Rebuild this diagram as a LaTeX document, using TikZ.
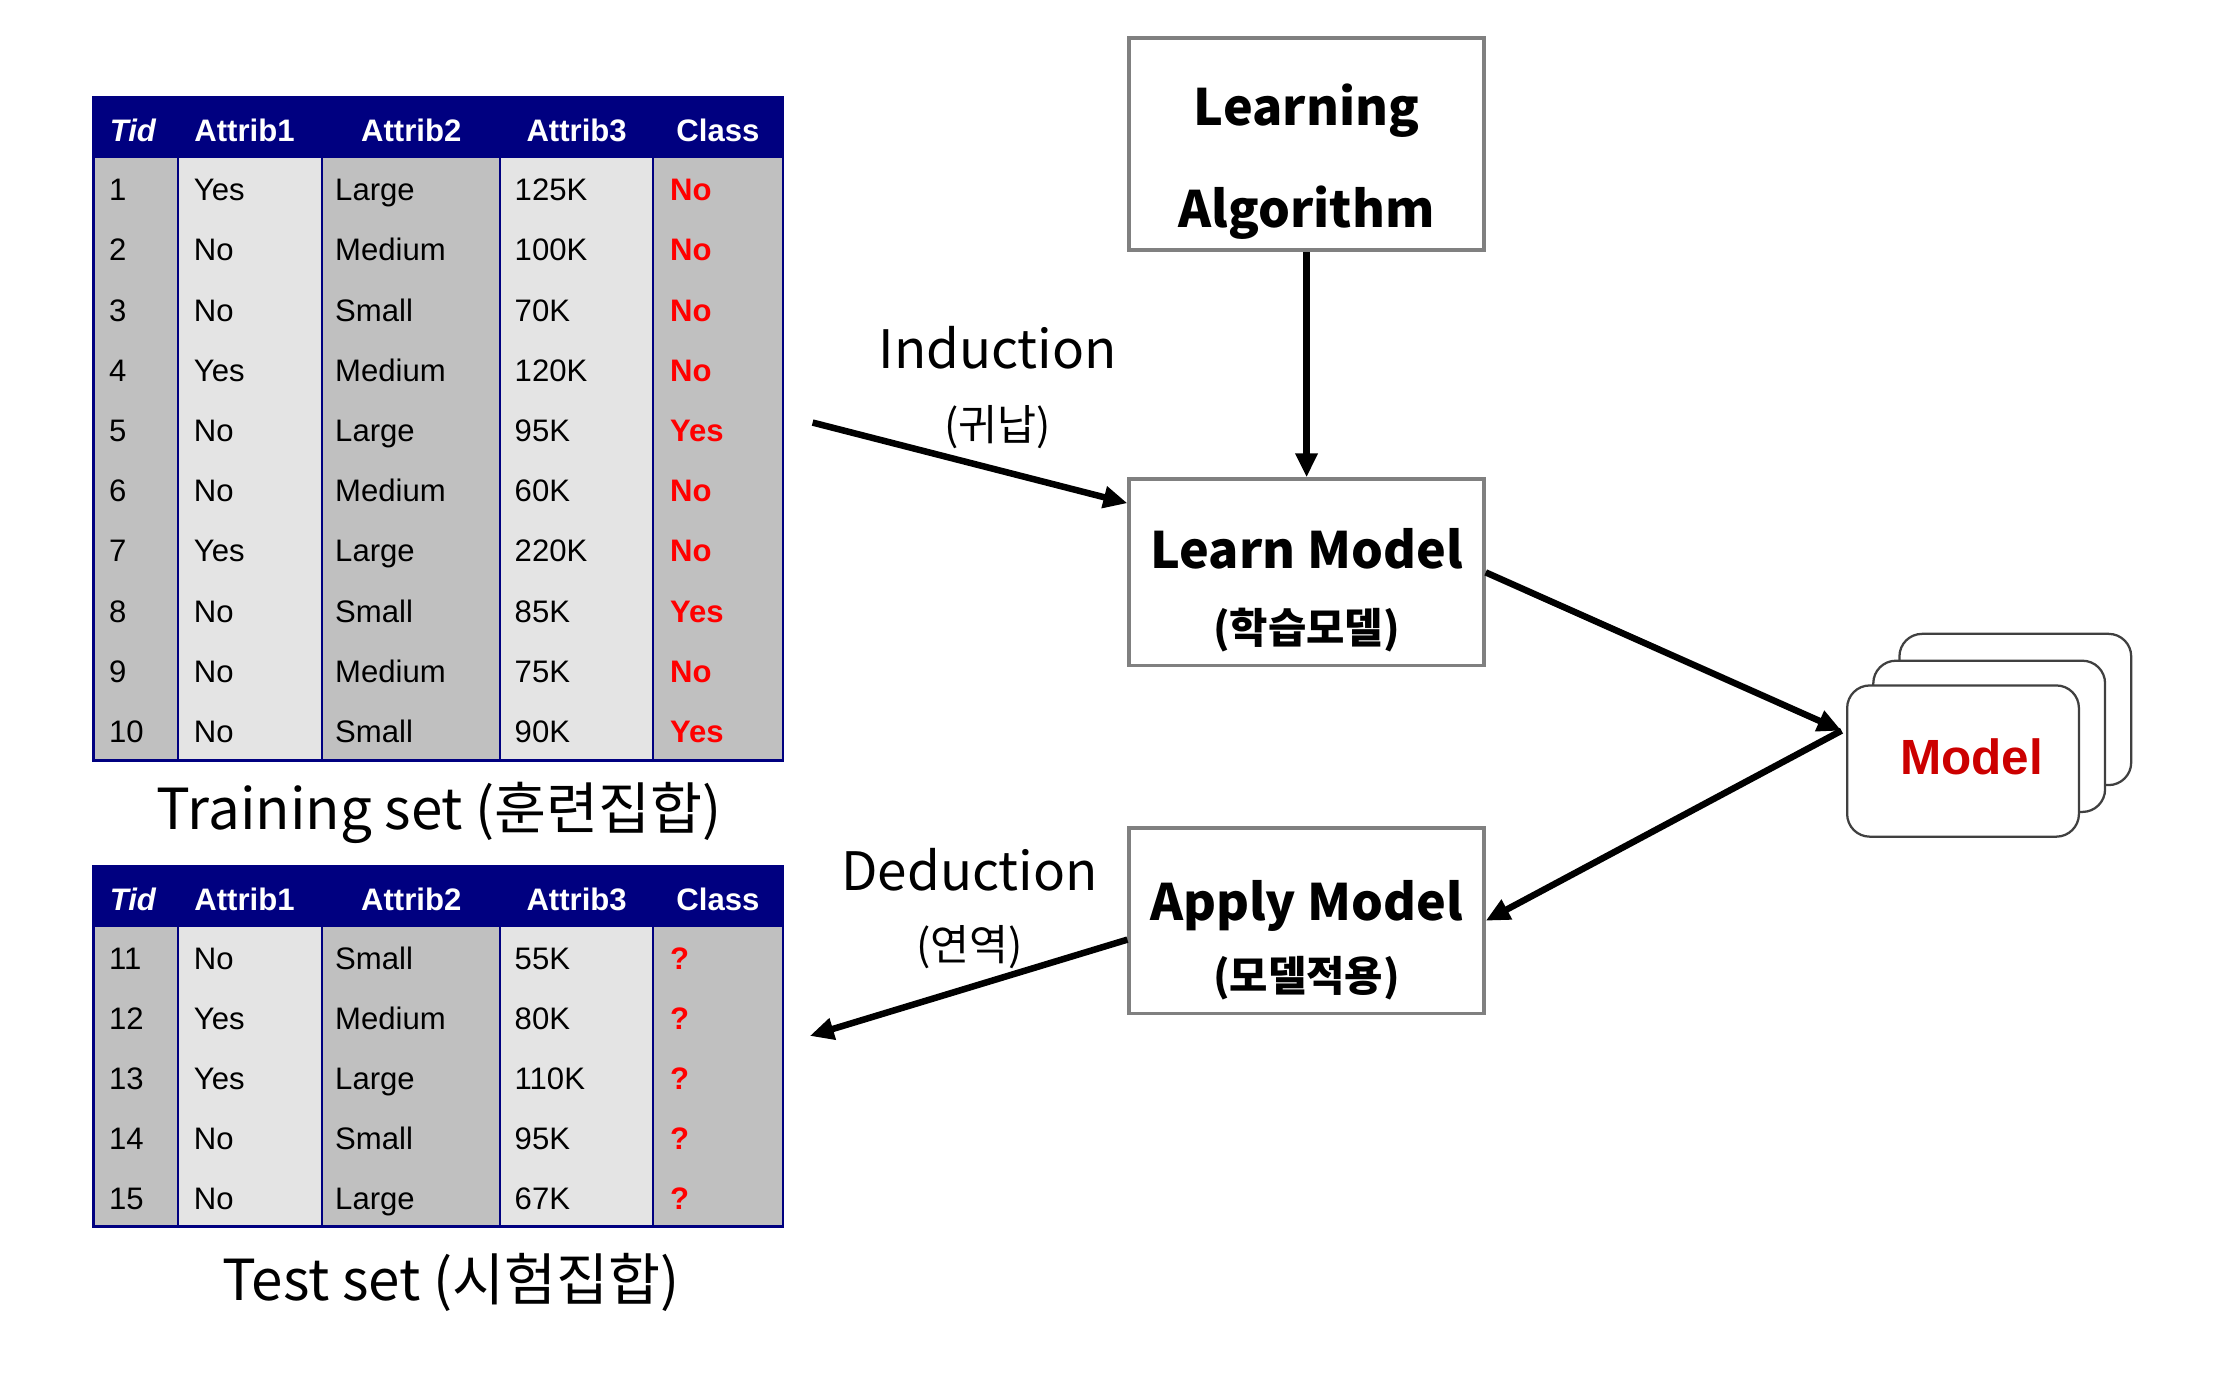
\documentclass[tikz,border=0pt]{standalone}
\usepackage{fontspec}
\setmainfont{Liberation Sans}
\newfontfamily\kr{Noto Sans CJK KR}
\usetikzlibrary{arrows.meta,calc}
\definecolor{navy}{RGB}{0,0,128}
\definecolor{cgray}{RGB}{192,192,192}
\definecolor{clight}{RGB}{228,228,228}
\definecolor{boxgray}{RGB}{128,128,128}
\definecolor{modelred}{RGB}{204,0,0}
\definecolor{redtxt}{RGB}{255,0,0}
\begin{document}
\begin{tikzpicture}[x=1pt,y=-1pt,
  arr/.style={line width=4.6pt,-{Triangle[length=17pt,width=15pt]}},
  boxst/.style={draw=boxgray,line width=2.5pt,fill=white,minimum width=251pt,inner sep=0pt},
  boxtxt/.style={font=\kr\bfseries\fontsize{35.5}{40}\selectfont,inner sep=0pt},
  boxsub/.style={font=\kr\bfseries\fontsize{29.5}{32}\selectfont,inner sep=0pt},
  lbl/.style={font=\kr\fontsize{37.5}{44}\selectfont,inner sep=0pt},
  lblsub/.style={font=\kr\fontsize{30}{32}\selectfont,inner sep=0pt},
  captxt/.style={font=\kr\fontsize{40}{44}\selectfont,inner sep=0pt},
  hdr/.style={font=\bfseries\fontsize{22}{24}\selectfont,text=white,inner sep=0pt,anchor=base},
  cell/.style={font=\fontsize{22}{24}\selectfont,inner sep=0pt,anchor=base west},
  cls/.style={cell,font=\bfseries\fontsize{22}{24}\selectfont,text=redtxt},
  mcard/.style={draw=black!75,line width=1.6pt,fill=white,rounded corners=16pt,minimum width=164pt,minimum height=107pt,inner sep=0pt}
]
\useasboundingbox (0,0) rectangle (1568,988);

% ---------- Training table ----------
\fill[navy] (66,69) rectangle (554,112);
\fill[cgray] (66,112) rectangle (126,538);
\fill[clight] (126,112) rectangle (228,538);
\fill[cgray] (228,112) rectangle (354,538);
\fill[clight] (354,112) rectangle (462,538);
\fill[cgray] (462,112) rectangle (554,538);
\foreach \xx in {126,228,354,462} \draw[navy,line width=1.5pt] (\xx,112) -- (\xx,538);
\draw[navy,line width=2pt] (66,69) rectangle (554,538);
\node[hdr,font=\bfseries\itshape\fontsize{22}{24}\selectfont] (trhA) at (94,100) {Tid};
\node[hdr] (trhB) at (173,100) {Attrib1};
\node[hdr] (trhC) at (291,100) {Attrib2};
\node[hdr] (trhD) at (408,100) {Attrib3};
\node[hdr] (trhE) at (508,100) {Class};
\foreach \t/\a/\b/\c/\d [count=\r] in {1/Yes/Large/125K/No,2/No/Medium/100K/No,3/No/Small/70K/No,4/Yes/Medium/120K/No,5/No/Large/95K/Yes,6/No/Medium/60K/No,7/Yes/Large/220K/No,8/No/Small/85K/Yes,9/No/Medium/75K/No,10/No/Small/90K/Yes}{
  \pgfmathsetmacro\yy{134+42.6*(\r-1)+8}
  \node[cell] (tr\r A) at (77,\yy) {\t};
  \node[cell] (tr\r B) at (137,\yy) {\a};
  \node[cell] (tr\r C) at (237,\yy) {\b};
  \node[cell] (tr\r D) at (364,\yy) {\c};
  \node[cls] (tr\r E) at (474,\yy) {\d};
}
\node[captxt,anchor=base] (trcap) at (311,587) {Training set (훈련집합)};

% ---------- Test table ----------
\fill[navy] (66,613) rectangle (554,656);
\fill[cgray] (66,656) rectangle (126,868);
\fill[clight] (126,656) rectangle (228,868);
\fill[cgray] (228,656) rectangle (354,868);
\fill[clight] (354,656) rectangle (462,868);
\fill[cgray] (462,656) rectangle (554,868);
\foreach \xx in {126,228,354,462} \draw[navy,line width=1.5pt] (\xx,656) -- (\xx,868);
\draw[navy,line width=2pt] (66,613) rectangle (554,868);
\node[hdr,font=\bfseries\itshape\fontsize{22}{24}\selectfont] (tehA) at (94,644) {Tid};
\node[hdr] (tehB) at (173,644) {Attrib1};
\node[hdr] (tehC) at (291,644) {Attrib2};
\node[hdr] (tehD) at (408,644) {Attrib3};
\node[hdr] (tehE) at (508,644) {Class};
\foreach \t/\a/\b/\c [count=\r] in {11/No/Small/55K,12/Yes/Medium/80K,13/Yes/Large/110K,14/No/Small/95K,15/No/Large/67K}{
  \pgfmathsetmacro\yy{678+42.5*(\r-1)+8}
  \node[cell] (te\r A) at (77,\yy) {\t};
  \node[cell] (te\r B) at (137,\yy) {\a};
  \node[cell] (te\r C) at (237,\yy) {\b};
  \node[cell] (te\r D) at (364,\yy) {\c};
  \node[cls] (te\r E) at (474,\yy) {?};
}
\node[captxt,anchor=base] (tecap) at (319,920) {Test set (시험집합)};

% ---------- Process boxes ----------
\node[boxst,minimum height=150pt] (la) at (924.5,102) {};
\node[boxtxt,anchor=base] (laA) at (924.5,89) {Learning};
\node[boxtxt,anchor=base] (laB) at (924.5,161) {Algorithm};

\node[boxst,minimum height=132pt] (lm) at (924.5,405) {};
\node[boxtxt,anchor=base] (lmA) at (924.5,402) {Learn Model};
\node[boxsub] (lmB) at (924.5,446) {(학습모델)};

\node[boxst,minimum height=131pt] (am) at (924.5,651.5) {};
\node[boxtxt,anchor=base] (amA) at (924.5,651) {Apply Model};
\node[boxsub] (amB) at (924.5,692) {(모델적용)};

% ---------- Model stack ----------
\node[mcard] (mc3) at (1426,502) {};
\node[mcard] (mc2) at (1407.5,521) {};
\node[mcard] (model) at (1389,538.5) {};
\node[font=\bfseries\fontsize{35}{38}\selectfont,text=modelred,inner sep=0pt,anchor=base] (modeltxt) at (1395,548) {Model};

% ---------- Labels ----------
\node[lbl,anchor=base] (ind) at (706,261) {Induction};
\node[lblsub] (indk) at (706,302) {(귀납)};
\node[lbl,anchor=base] (ded) at (686,630) {Deduction};
\node[lblsub] (dedk) at (686,670) {(연역)};

% ---------- Connectors ----------
\coordinate (indS) at (575,299);
\coordinate (mIn) at (1303,517);
\coordinate (dedE) at (573,733);
\draw[arr] (la.south) -- (lm.north);
\draw[arr] (indS) -- ($(lm.north west)!0.136!(lm.south west)$);
\draw[arr] (lm.east) -- (mIn);
\draw[arr] (mIn) -- (am.east);
\draw[arr] ($(am.north west)!0.6!(am.south west)$) -- (dedE);
\end{tikzpicture}
\end{document}
